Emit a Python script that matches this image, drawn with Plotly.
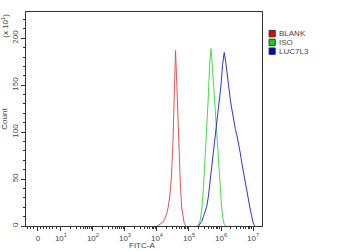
import plotly.graph_objects as go
import numpy as np

# x positions in decade units (10^k at k); "0" of the biexponential axis sits at 0.28
tick_pos = [0.28, 1, 2, 3, 4, 5, 6, 7]
tick_text = ["0", "10<sup>1</sup>", "10<sup>2</sup>", "10<sup>3</sup>", "10<sup>4</sup>",
             "10<sup>5</sup>", "10<sup>6</sup>", "10<sup>7</sup>"]

blank_x = [4.00, 4.05, 4.10, 4.15, 4.20, 4.25, 4.30, 4.35, 4.40, 4.45, 4.50, 4.54, 4.58,
           4.61, 4.65, 4.69, 4.73, 4.77, 4.81, 4.85, 4.90]
blank_y = [0, 1, 2, 3, 5, 8, 13, 20, 32, 52, 90, 140, 187, 160, 120, 75, 45, 20, 8, 3, 0]

iso_x = [5.25, 5.30, 5.35, 5.40, 5.45, 5.50, 5.55, 5.60, 5.65, 5.69, 5.73, 5.78, 5.83,
         5.88, 5.93, 5.97, 6.02, 6.06, 6.10, 6.15]
iso_y = [0, 2, 6, 18, 40, 70, 100, 135, 175, 189, 170, 145, 120, 90, 62, 40, 20, 8, 2, 0]

luc_x = [5.30, 5.35, 5.40, 5.45, 5.50, 5.55, 5.60, 5.65, 5.70, 5.75, 5.80, 5.85, 5.90,
         5.95, 6.00, 6.05, 6.10, 6.15, 6.20, 6.25, 6.30, 6.35, 6.40, 6.45, 6.50, 6.55,
         6.60, 6.65, 6.70, 6.75, 6.80, 6.85, 6.90, 6.95, 7.00, 7.05]
luc_y = [0, 2, 5, 10, 15, 20, 30, 45, 58, 75, 90, 105, 120, 132, 150, 172, 185, 174,
         162, 146, 132, 121, 112, 103, 96, 88, 78, 67, 57, 47, 37, 28, 20, 12, 4, 0]

names = ["BLANK", "ISO", "LUC7L3"]
line_colors = ["#e05555", "#44dd44", "#3333cc"]
box_colors = ["#ee0000", "#00dd00", "#0000dd"]

fig = go.Figure()
for xs, ys, c in zip([blank_x, iso_x, luc_x], [blank_y, iso_y, luc_y], line_colors):
    fig.add_trace(go.Scatter(x=xs, y=ys, mode="lines", line=dict(color=c, width=1),
                             showlegend=False, hoverinfo="skip"))

minor_x = [round(-0.05 + 0.1 * i, 2) for i in range(10) if abs(-0.05 + 0.1 * i - 0.28) > 0.04]
for d in range(1, 7):
    for k in range(2, 10):
        minor_x.append(d + np.log10(k))

font = dict(family="Liberation Sans, Arial, sans-serif", size=8, color="#444444")

# manual compact legend (paper coordinates)
shapes = []
annotations = []
for i, (n, c) in enumerate(zip(names, box_colors)):
    y_top = 0.914 - i * 0.041
    shapes.append(dict(type="rect", xref="paper", yref="paper", x0=1.030, x1=1.056,
                       y0=y_top - 0.030, y1=y_top, fillcolor=c,
                       line=dict(color="#333333", width=1)))
    annotations.append(dict(text=n, xref="paper", yref="paper", x=1.066, y=y_top - 0.015,
                            xanchor="left", yanchor="middle", showarrow=False, borderpad=0,
                            font=dict(family="Liberation Sans, Arial, sans-serif", size=8,
                                      color="#444444")))

annotations.append(dict(text="(x 10<sup>1</sup>)", xref="paper", yref="paper", x=-0.09, y=1.0,
                        xanchor="center", yanchor="top", textangle=-90, showarrow=False,
                        font=dict(size=8, color="#444444")))
annotations.append(dict(text="FITC-A", xref="paper", yref="paper", x=0.49, y=-0.089,
                        xanchor="center", yanchor="middle", showarrow=False, borderpad=0,
                        font=dict(size=8, color="#444444")))

fig.update_layout(
    width=350, height=251,
    margin=dict(l=26, r=88, t=12, b=25, autoexpand=False),
    paper_bgcolor="white", plot_bgcolor="white",
    font=font,
    showlegend=False,
    xaxis=dict(range=[-0.09, 7.28], tickmode="array", tickvals=tick_pos, ticktext=tick_text,
               ticks="outside", ticklen=4, tickwidth=1, tickcolor="#333333",
               showline=True, linecolor="#333333", linewidth=1, mirror=True,
               showgrid=False, zeroline=False,
               minor=dict(tickmode="array", tickvals=minor_x, ticks="outside", ticklen=2,
                          tickcolor="#333333", showgrid=False)),
    yaxis=dict(range=[0, 228], tickmode="array", tickvals=[0, 50, 100, 150, 200],
               ticks="outside", ticklen=4, tickwidth=1, tickcolor="#333333", tickangle=-90,
               showline=True, linecolor="#333333", linewidth=1, mirror=True,
               showgrid=False, zeroline=False,
               minor=dict(tickmode="array", tickvals=[v for v in range(10, 228, 10) if v % 50],
                          ticks="outside", ticklen=2, tickcolor="#333333", showgrid=False),
               title=dict(text="Count", standoff=6, font=dict(size=8))),
    shapes=shapes,
    annotations=annotations,
)

fig.write_html("out.html")
